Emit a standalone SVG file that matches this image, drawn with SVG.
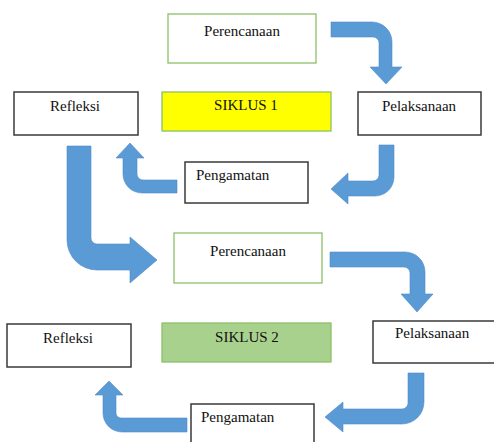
<svg xmlns="http://www.w3.org/2000/svg" width="494" height="442" viewBox="0 0 494 442">
<style>
.box{fill:#fff;stroke:#3a3a3a;stroke-width:1.5}
.gbox{fill:#fff;stroke:#8cc168;stroke-width:1.3}
.s1{fill:#ffff00;stroke:#8cc168;stroke-width:1.3}
.s2{fill:#a9d18e;stroke:#8cc168;stroke-width:1.3}
.arr{fill:#5b9bd5;stroke:#4f8ccb;stroke-width:0.6}
text{font-family:"Liberation Serif","Times New Roman",serif;font-size:15px;fill:#111}
.c{text-anchor:middle}
</style>
<rect width="494" height="442" fill="#fff"/>
<g id="connectors">
<path class="arr" d="M331,22 H372 A20,20 0 0 1 392,42 V67 H402 L386,84 L370,67 H379 V43 A6,6 0 0 0 373,37 H331 Z"/>
<path class="arr" d="M379,145 H394 V177 A19,19 0 0 1 375,196 H348 V204 L331,189 L348,173 V181 H373 A6,6 0 0 0 379,175 Z"/>
<path class="arr" d="M177,180 H143 A6,6 0 0 1 137,174 V158 H144 L130,143 L116,158 H123 V174 A19,19 0 0 0 142,193 H177 Z"/>
<path class="arr" d="M67,146 H91 V238 A6,6 0 0 0 97,244 H130 V237 L157,260 L130,283 V270 H97 A30,30 0 0 1 67,240 Z"/>
<path class="arr" d="M330,252 H405 A20,20 0 0 1 425,272 V294 H433 L417,312 L401,294 H410 V273 A6,6 0 0 0 404,267 H330 Z"/>
<path class="arr" d="M408,373 H424 V402 A22,22 0 0 1 402,424 H343 V432 L325,417 L343,402 V409 H402 A6,6 0 0 0 408,403 Z"/>
<path class="arr" d="M187,418 H121 A5,5 0 0 1 116,413 V395 H123 L109,381 L95,395 H103 V413 A19,19 0 0 0 122,432 H187 Z"/>
</g>
<g id="perencanaan1"><rect class="gbox" x="168" y="14" width="148" height="49"/><text class="c" x="242" y="36">Perencanaan</text></g>
<g id="siklus1"><rect class="s1" x="162" y="92" width="169" height="39"/><text class="c" x="246" y="110">SIKLUS 1</text></g>
<g id="refleksi1"><rect class="box" x="14" y="92" width="124" height="43"/><text class="c" x="75" y="111">Refleksi</text></g>
<g id="pelaksanaan1"><rect class="box" x="358" y="92" width="123" height="43"/><text class="c" x="419" y="111">Pelaksanaan</text></g>
<g id="pengamatan1"><rect class="box" x="185" y="162" width="123" height="41"/><text x="196" y="180">Pengamatan</text></g>
<g id="perencanaan2"><rect class="gbox" x="174" y="233" width="148" height="50"/><text class="c" x="248" y="256">Perencanaan</text></g>
<g id="refleksi2"><rect class="box" x="7" y="324" width="124" height="43"/><text class="c" x="68" y="343">Refleksi</text></g>
<g id="siklus2"><rect class="s2" x="162" y="323" width="169" height="39"/><text class="c" x="247" y="342">SIKLUS 2</text></g>
<g id="pelaksanaan2"><rect class="box" x="373" y="321" width="124" height="42"/><text x="395" y="338">Pelaksanaan</text></g>
<g id="pengamatan2"><rect class="box" x="191" y="404" width="123" height="42"/><text x="201" y="422">Pengamatan</text></g>
</svg>
